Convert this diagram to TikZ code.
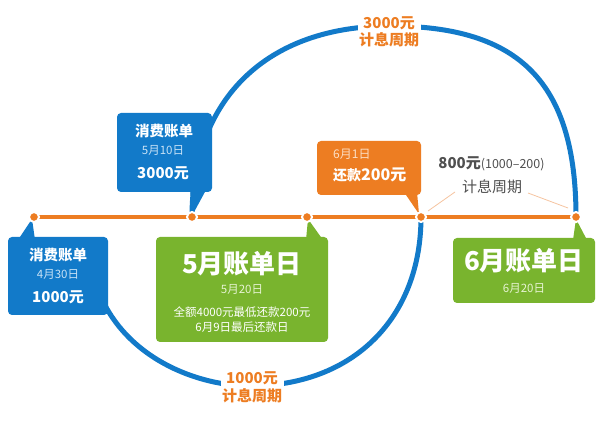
\documentclass[tikz,border=0pt]{standalone}
\usepackage{fontspec}
\usetikzlibrary{calc}
\setmainfont{Noto Sans CJK SC}
\definecolor{cblue}{RGB}{18,122,201}
\definecolor{cgreen}{RGB}{121,180,46}
\definecolor{corange}{RGB}{237,125,34}
\definecolor{cpeach}{RGB}{246,196,160}
\definecolor{cgray}{RGB}{80,80,80}
\definecolor{paleblue}{RGB}{200,226,246}
\definecolor{palegreen}{RGB}{230,243,210}
\definecolor{paleorange}{RGB}{252,222,196}
\newcommand\myfs[1]{\fontsize{#1}{#1}\selectfont}
\begin{document}
\begin{tikzpicture}[x=1pt,y=-1pt,
  txt/.style={inner sep=0pt, text=white},
  bx/.style={rounded corners=4pt, inner sep=0pt, draw=none},
  arcline/.style={cblue, line width=5pt, line cap=round},
  dotst/.style={fill=corange, draw=white, line width=2pt},
  thin/.style={cpeach, line width=0.8pt},
  lbl/.style={inner sep=1.5pt, fill=white, align=center, font=\bfseries, text=corange}
]
\useasboundingbox (0,0) rectangle (600,435);
\fill[white] (0,0) rectangle (600,435);

% timeline dots
\coordinate (d1) at (34,217);
\coordinate (d2) at (192,217);
\coordinate (d3) at (307,217);
\coordinate (d4) at (421,217);
\coordinate (d5) at (576,217);

% arcs
\coordinate (atop) at (390,26);
\coordinate (abot) at (250,386);
\coordinate (aend) at (98,290);
\draw[arcline] (d2) .. controls (192,99) and (267,26) .. (atop)
                    .. controls (520,26) and (576,83) .. (d5);
\draw[arcline] (d4) .. controls (421,318) and (353,386) .. (abot)
                    .. controls (200,386) and (125,360) .. (aend);

% timeline
\draw[corange, line width=3.5pt] (d1) -- (d5);

% thin connectors of the 800 label
\coordinate (l1) at (455,192);
\coordinate (l2) at (528,193);
\draw[thin] (l1) -- ($(d4)+(7,-6)$);
\draw[thin] (l2) -- ($(d5)+(-8,-9)$);

% box A
\node[bx, fill=cblue, minimum width=100pt, minimum height=78pt] (boxA) at (58,276) {};
\fill[cblue] (18,240) -- (32,219) -- (35,240) -- cycle;
\node[txt, font=\bfseries\myfs{14.5pt}] (a1) at (58,255) {消费账单};
\node[txt, text=paleblue, font=\myfs{11.5pt}] (a2) at (58,274) {4月30日};
\node[txt, font=\bfseries\myfs{15pt}] (a3) at (58,297) {1000元};

% box B
\node[bx, fill=cblue, minimum width=95pt, minimum height=79pt] (boxB) at (164.5,152.5) {};
\fill[cblue] (190,190) -- (193,214) -- (206,190) -- cycle;
\node[txt, font=\bfseries\myfs{14.5pt}] (b1) at (164,131) {消费账单};
\node[txt, text=paleblue, font=\myfs{11.5pt}] (b2) at (163,150) {5月10日};
\node[txt, font=\bfseries\myfs{15pt}] (b3) at (163,173.5) {3000元};

% green box May
\node[bx, fill=cgreen, minimum width=172pt, minimum height=105pt] (boxC) at (242,289.5) {};
\fill[cgreen] (306,240) -- (308,219) -- (323,240) -- cycle;
\node[txt, font=\bfseries\myfs{26pt}] (c1) at (242,264) {5月账单日};
\node[txt, text=palegreen, font=\myfs{11.5pt}] (c2) at (242,289) {5月20日};
\node[txt, font=\myfs{11.5pt}] (c3) at (242,312.5) {全额4000元最低还款200元};
\node[txt, font=\myfs{11.5pt}] (c4) at (242,327.5) {6月9日最后还款日};

% orange box
\node[bx, fill=corange, minimum width=104pt, minimum height=54pt] (boxD) at (369,168) {};
\fill[corange] (404,192) -- (419,214) -- (417,192) -- cycle;
\node[txt, text=paleorange, font=\myfs{12pt}, anchor=west] (o1) at (333,154) {6月1日};
\node[txt, font=\bfseries, anchor=west] (o2) at (333,175) {\myfs{14pt}还款\myfs{16pt}200元};

% green box June
\node[bx, fill=cgreen, minimum width=142pt, minimum height=65pt] (boxE) at (524,270.5) {};
\fill[cgreen] (573,240) -- (576,219) -- (587,240) -- cycle;
\node[txt, font=\bfseries\myfs{26pt}] (e1) at (524,261) {6月账单日};
\node[txt, text=palegreen, font=\myfs{11.5pt}] (e2) at (524,288.5) {6月20日};

% dots
\foreach \d in {d1,d2,d3,d4,d5} \filldraw[dotst] (\d) circle (5pt);

% labels
\node[lbl] (top) at (389,32) {\myfs{15pt}3000元\\[2pt]\myfs{15pt}计息周期};
\node[lbl] (bot) at (252,387.5) {\myfs{15pt}1000元\\[2pt]\myfs{15pt}计息周期};
\node[inner sep=0pt, text=cgray] (m1) at (491.5,164) {\bfseries\myfs{15pt}800元\mdseries\myfs{12.5pt}(1000–200)};
\node[inner sep=0pt, text=cgray, font=\myfs{15pt}] (m2) at (492,187) {计息周期};
\end{tikzpicture}
\end{document}
